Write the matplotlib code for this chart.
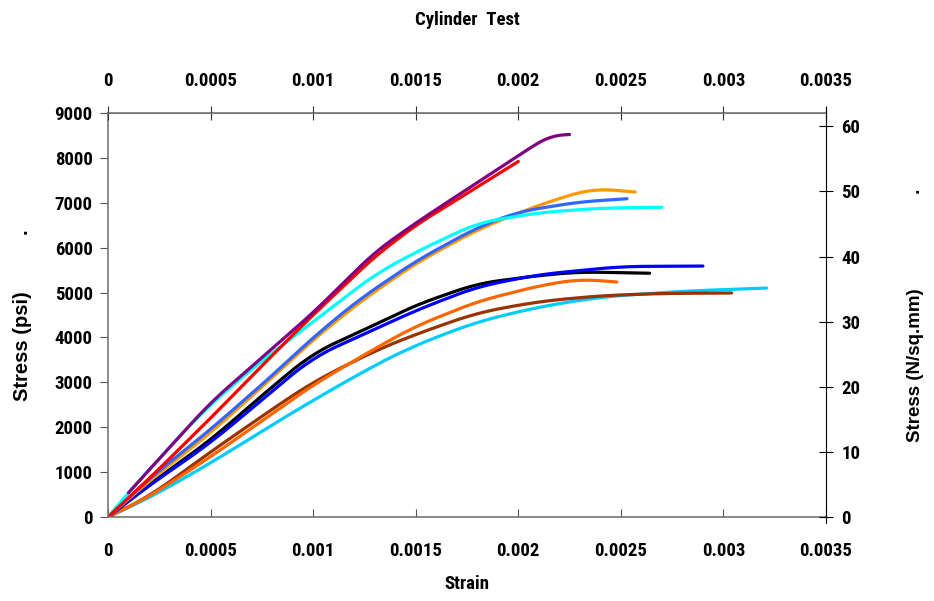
import numpy as np
import matplotlib.pyplot as plt

plt.rcParams['font.family'] = ['Roboto Condensed', 'Liberation Sans', 'DejaVu Sans']
plt.rcParams['font.weight'] = 'bold'

# strain / stress (psi), one pair of lists per specimen
purple_x = [0.0001, 0.0003, 0.0005, 0.0008, 0.001, 0.0013, 0.0015, 0.0018, 0.002, 0.0021, 0.00218, 0.00225]
purple_y = [540, 1550, 2550, 3750, 4550, 5900, 6550, 7450, 8050, 8350, 8550, 8520]

red_x = [0, 0.0002, 0.0003, 0.0005, 0.0008, 0.001, 0.0013, 0.0015, 0.0018, 0.002]
red_y = [0, 850, 1300, 2200, 3600, 4500, 5800, 6500, 7350, 7920]

cyan_x = [0, 0.00012, 0.00025, 0.00045, 0.0007, 0.001, 0.0013, 0.0015, 0.0018, 0.0021, 0.0024, 0.0027]
cyan_y = [0, 650, 1300, 2300, 3300, 4350, 5400, 5900, 6550, 6780, 6880, 6900]

rblue_x = [0, 0.0002, 0.0005, 0.0008, 0.001, 0.00122, 0.0015, 0.0018, 0.002, 0.0023, 0.00253]
rblue_y = [0, 850, 1950, 3150, 4000, 4830, 5700, 6450, 6800, 7020, 7090]

orange_x = [0, 0.0002, 0.0005, 0.0008, 0.001, 0.00124, 0.0015, 0.0018, 0.0021, 0.00236, 0.00257]
orange_y = [0, 800, 1870, 3100, 3950, 4830, 5650, 6400, 6950, 7320, 7240]

blue_x = [0, 0.0002, 0.0005, 0.0008, 0.001, 0.0013, 0.0015, 0.0018, 0.0021, 0.0025, 0.0029]
blue_y = [0, 700, 1650, 2800, 3560, 4180, 4600, 5130, 5400, 5580, 5590]

black_x = [0, 0.0002, 0.0005, 0.0008, 0.001, 0.0013, 0.0015, 0.0018, 0.0021, 0.0023, 0.00264]
black_y = [0, 720, 1715, 2900, 3650, 4280, 4720, 5200, 5380, 5460, 5430]

dorange_x = [0, 0.0002, 0.0005, 0.0008, 0.001, 0.0013, 0.0015, 0.0018, 0.0021, 0.0023, 0.00248]
dorange_y = [0, 450, 1340, 2300, 2940, 3750, 4250, 4800, 5150, 5300, 5235]

brown_x = [0, 0.0002, 0.0005, 0.0008, 0.001, 0.0013, 0.0015, 0.0018, 0.0021, 0.0024, 0.0027, 0.00304]
brown_y = [0, 450, 1450, 2400, 3010, 3700, 4070, 4550, 4800, 4930, 4980, 4990]

sky_x = [0, 0.0002, 0.0005, 0.0008, 0.001, 0.0013, 0.0015, 0.0018, 0.0021, 0.0024, 0.0028, 0.00321]
sky_y = [0, 420, 1200, 2050, 2600, 3380, 3830, 4350, 4680, 4900, 5030, 5100]

strain_labels = ['0', '0.0005', '0.001', '0.0015', '0.002', '0.0025', '0.003', '0.0035']

curves = [
    (sky_x, sky_y, '#00CCFF'),
    (brown_x, brown_y, '#993300'),
    (dorange_x, dorange_y, '#FF6600'),
    (black_x, black_y, 'black'),
    (blue_x, blue_y, '#0000FF'),
    (orange_x, orange_y, '#FF9900'),
    (rblue_x, rblue_y, '#3366FF'),
    (cyan_x, cyan_y, '#00FFFF'),
    (red_x, red_y, '#FF0000'),
    (purple_x, purple_y, '#800080'),
]

fs = 13.5
vert_font = ['Liberation Sans', 'DejaVu Sans']

fig = plt.figure(figsize=(9.34, 6.01), dpi=100)
ax = fig.add_axes([0.1156, 0.1398, 0.7688, 0.6722])

for xs, ys, c in curves:
    # smooth the read points a little for display
    xx = np.linspace(xs[0], xs[-1], 300)
    yy = np.interp(xx, xs, ys)
    k = np.ones(25) / 25
    ys_s = np.convolve(np.pad(yy, 12, mode='reflect', reflect_type='odd'), k, mode='valid')
    ax.plot(xx, ys_s, color=c, lw=2.3, solid_capstyle='round')

ax.set_xlim(0, 0.0035)
ax.set_ylim(0, 9000)
ax.set_xticks(np.arange(0, 0.00351, 0.0005))
ax.set_xticklabels(strain_labels)
ax.set_yticks(np.arange(0, 9001, 1000))
ax.tick_params(axis='x', direction='in', length=6, labelsize=fs, pad=18, color='#555555')
ax.tick_params(axis='y', direction='out', length=6, labelsize=fs, pad=5, color='#555555')
for s in ['left', 'bottom', 'top']:
    ax.spines[s].set_color('#777777')
    ax.spines[s].set_linewidth(1.2)
ax.spines['right'].set_visible(False)
ax.set_xlabel('Strain', fontsize=fs, fontweight='bold')
ax.xaxis.set_label_coords(0.5, -(575 - 517) / 404)
ax.set_ylabel('Stress (psi)' + ' ' * 10 + '.', fontsize=14.5, fontweight='bold', family=vert_font)
ax.yaxis.set_label_coords(-(108 - 32) / 718, 0.5)

# top strain axis
axt = ax.twiny()
axt.set_xlim(ax.get_xlim())
axt.set_xticks(ax.get_xticks())
axt.set_xticklabels(strain_labels)
axt.tick_params(axis='x', direction='inout', length=10, labelsize=fs, pad=11.5, color='#333333')
for s in ['left', 'bottom', 'right']:
    axt.spines[s].set_visible(False)
axt.spines['top'].set_color('#777777')

# right axis in N/sq.mm
ax2 = ax.twinx()
ax2.set_ylim(0, 9000 / 145.04)
ax2.set_yticks(np.arange(0, 61, 10))
ax2.tick_params(axis='y', direction='inout', length=10, labelsize=fs, pad=6)
for s in ['left', 'bottom', 'top']:
    ax2.spines[s].set_visible(False)
ax2.spines['right'].set_bounds(-0.9, 63)
ax2.set_ylabel('Stress (N/sq.mm)' + ' ' * 18 + '.', fontsize=13.5, fontweight='bold',
               family=vert_font, rotation=90)
ax2.yaxis.set_label_coords((907 - 108) / 718, 0.5)

fig.text(0.5, 1 - 20 / 601, 'Cylinder  Test', ha='center', va='center', fontsize=fs, fontweight='bold')

plt.savefig('out.png', dpi=100)
